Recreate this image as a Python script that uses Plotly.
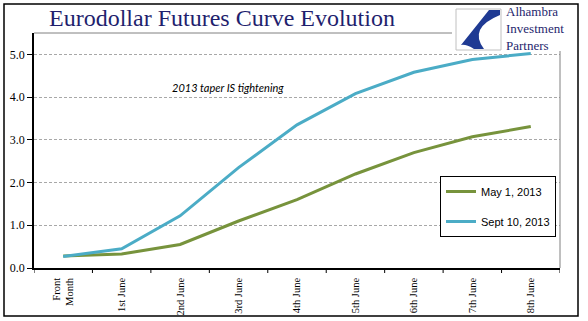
import plotly.graph_objects as go

# Eurodollar futures curve: contract months and settlement yields (%)
contracts = ["Front<br>Month", "1st June", "2nd June", "3rd June", "4th June",
             "5th June", "6th June", "7th June", "8th June"]
may_2013 = [0.28, 0.33, 0.55, 1.10, 1.60, 2.20, 2.70, 3.07, 3.31]
sep_2013 = [0.27, 0.45, 1.22, 2.35, 3.35, 4.08, 4.58, 4.88, 5.02]
y_ticks = [0.0, 1.0, 2.0, 3.0, 4.0, 5.0]

W, H = 588, 321
ML, MR, MT, MB = 34, 28, 33, 53
PW, PH = W - ML - MR, H - MT - MB


def px(x):
    return (x - ML) / PW


def py(y):
    return (H - MB - y) / PH


green = "#77933C"
blue = "#4BACC6"
navy = "#1F1F6E"
logo_blue = "#1F3A93"

fig = go.Figure()
fig.add_trace(go.Scatter(x=list(range(len(contracts))), y=may_2013, mode="lines",
                         name="May 1, 2013", legendgroup="may",
                         line=dict(color=green, width=3)))
fig.add_trace(go.Scatter(x=list(range(len(contracts))), y=sep_2013, mode="lines",
                         name="Sept 10, 2013", legendgroup="sep",
                         line=dict(color=blue, width=3)))

shapes = [
    # outer frame
    dict(type="rect", xref="paper", yref="paper", x0=px(4), x1=px(578), y0=py(316), y1=py(4),
         line=dict(color="black", width=1.5), layer="below"),
    # plot frame top / right
    dict(type="line", xref="paper", yref="paper", x0=0, x1=1, y0=1, y1=1,
         line=dict(color="#808080", width=1)),
    dict(type="line", xref="paper", yref="paper", x0=1, x1=1, y0=0, y1=1,
         line=dict(color="#808080", width=1)),
    # logo panel
    dict(type="rect", xref="paper", yref="paper", x0=px(452), x1=px(576), y0=py(51), y1=py(6),
         fillcolor="white", line=dict(width=0)),
    dict(type="rect", xref="paper", yref="paper", x0=px(456), x1=px(501), y0=py(50), y1=py(9),
         fillcolor="white", line=dict(color="#C0C0C0", width=1)),
    # logo sail mark
    dict(type="path", xref="paper", yref="paper",
         path=(f"M {px(489)},{py(10)} L {px(500)},{py(10)} L {px(500)},{py(15)} "
               f"Q {px(468)},{py(28)} {px(484)},{py(49)} L {px(474)},{py(49)} "
               f"Q {px(466)},{py(44)} {px(461)},{py(45)} Z"),
         fillcolor=logo_blue, line=dict(width=0)),
]

annotations = [
    dict(text="Eurodollar Futures Curve Evolution", xref="paper", yref="paper",
         x=px(222), y=py(18), xanchor="center", yanchor="middle", showarrow=False,
         font=dict(family="Liberation Serif", size=24, color=navy)),
    dict(text="<i>2013 taper IS tightening</i>", xref="paper", yref="paper",
         x=px(228), y=py(87), xanchor="center", yanchor="middle", showarrow=False,
         font=dict(family="Lato", size=11, color="black")),
    dict(text="Alhambra<br>Investment<br>Partners", xref="paper", yref="paper",
         x=px(504), y=py(28), xanchor="left", yanchor="middle", align="left",
         showarrow=False, font=dict(family="Liberation Serif", size=13, color=navy)),
]

fig.update_layout(
    width=W, height=H,
    margin=dict(l=ML, r=MR, t=MT, b=MB),
    paper_bgcolor="white", plot_bgcolor="white",
    showlegend=True,
    legend=dict(x=px(440), y=py(176), xanchor="left", yanchor="top",
                bgcolor="white", bordercolor="black", borderwidth=1,
                font=dict(family="Liberation Sans", size=11, color="black"),
                traceorder="grouped", tracegroupgap=11, itemwidth=30),
    xaxis=dict(range=[-0.5, 8.5], tickmode="array", tickvals=list(range(len(contracts))),
               ticktext=contracts, tickangle=-90, showgrid=False, zeroline=False,
               showline=True, linecolor="black", linewidth=1.5, automargin=False,
               ticks="outside", ticklen=4, tickcolor="rgba(0,0,0,0)",
               tickfont=dict(family="Liberation Serif", size=10.5, color="black")),
    yaxis=dict(range=[0, 5.5], tickmode="array", tickvals=y_ticks,
               ticktext=[f"{v:.1f}" for v in y_ticks], automargin=False,
               showgrid=True, gridcolor="#A8A8A8", griddash="3px,2px", gridwidth=1,
               zeroline=False, showline=True, linecolor="black", linewidth=1.5,
               ticks="outside", ticklen=5, tickcolor="black",
               tickfont=dict(family="Liberation Serif", size=12, color="black")),
    shapes=shapes,
    annotations=annotations,
)

# category separators on the x axis
for i in range(len(contracts) + 1):
    fig.add_shape(type="line", xref="x", yref="paper", x0=i - 0.5, x1=i - 0.5,
                  y0=0, y1=-5 / PH, line=dict(color="black", width=1))

fig.write_html("out.html")
